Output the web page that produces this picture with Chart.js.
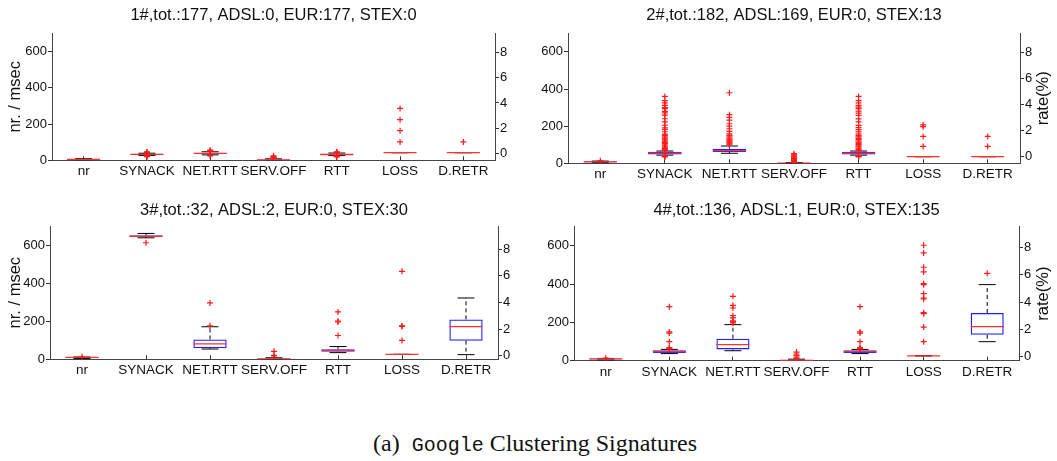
<!DOCTYPE html>
<html>
<head>
<meta charset="utf-8">
<script src="https://cdn.jsdelivr.net/npm/chart.js@4.4.1/dist/chart.umd.min.js"></script>
<style>
  body { margin: 0; width: 1057px; height: 461px; background: #fff; position: relative; overflow: hidden; }
  .panel { position: absolute; }
  .panel canvas { display: block; }
  #caption { position: absolute; left: 373px; top: 431px; font-family: "Liberation Serif", serif; font-size: 24px; line-height: 1; white-space: pre; color: #111; }
  #caption span { font-family: "Liberation Mono", monospace; font-size: 20px; }
</style>
</head>
<body>
<div class="panel" style="left:0;top:0"><canvas id="c1" width="527" height="190"></canvas></div>
<div class="panel" style="left:527px;top:0"><canvas id="c2" width="530" height="190"></canvas></div>
<div class="panel" style="left:0;top:190px"><canvas id="c3" width="527" height="190"></canvas></div>
<div class="panel" style="left:527px;top:190px"><canvas id="c4" width="530" height="190"></canvas></div>
<div id="caption">(a)  <span>Google</span> Clustering Signatures</div>
<script>
const categories = ['nr', 'SYNACK', 'NET.RTT', 'SERV.OFF', 'RTT', 'LOSS', 'D.RETR'];
// these two are rates in percent, read against the right axis
const rateCategories = ['LOSS', 'D.RETR'];
const leftTicks = [0, 200, 400, 600];
const rightTicks = [0, 2, 4, 6, 8];

const titles = [
    '1#,tot.:177, ADSL:0, EUR:177, STEX:0',
    '2#,tot.:182, ADSL:169, EUR:0, STEX:13',
    '3#,tot.:32, ADSL:2, EUR:0, STEX:30',
    '4#,tot.:136, ADSL:1, EUR:0, STEX:135'
];

// per category: [lower whisker, q1, median, q3, upper whisker]
const summary1 = [
    [1, 2, 5, 7, 9],
    [27, 30, 33, 36, 39],
    [30, 34, 38, 42, 47],
    [0, 1, 2, 4, 8],
    [26, 29, 32, 36, 40],
    [0.05, 0.05, 0.05, 0.05, 0.05],
    [0.05, 0.05, 0.05, 0.05, 0.05]
];
const outliers1 = [
    [],
    [20, 23, 25, 42, 44, 46],
    [24, 27, 50, 53, 56],
    [11, 14, 17, 21, 25],
    [19, 22, 25, 42, 45, 47],
    [0.9, 1.8, 2.67, 3.57],
    [0.9]
];

const summary2 = [
    [4, 6, 8, 11, 12],
    [44, 48, 55, 62, 66],
    [54, 61, 68, 79, 93],
    [0, 0, 1, 2, 4],
    [44, 48, 55, 62, 66],
    [0, 0, 0, 0, 0],
    [0, 0, 0, 0, 0]
];
const outliers2 = [
    [14],
    [35, 37, 40, 70, 72, 76, 80, 87, 94, 100, 107, 113, 119, 126, 134, 142, 150, 157, 170, 182, 191, 205, 223, 240, 259, 271, 280, 294, 300, 312, 325, 338, 360],
    [100, 105, 110, 115, 120, 125, 130, 135, 142, 150, 158, 172, 186, 200, 213, 232, 247, 262, 380],
    [5, 7, 10, 14, 18, 22, 26, 30, 35, 40, 45, 52],
    [35, 38, 40, 70, 73, 77, 81, 88, 94, 101, 107, 114, 120, 127, 134, 142, 149, 157, 169, 181, 192, 204, 223, 239, 258, 270, 281, 294, 302, 312, 325, 338, 360],
    [0.79, 1.56, 2.31, 2.44],
    [0.79, 1.56]
];

const summary3 = [
    [4, 6, 10, 11, 12],
    [638, 642, 645, 652, 661],
    [54, 58, 81, 104, 171],
    [0, 0, 2, 5, 8],
    [35, 40, 47, 53, 67],
    [0.1, 0.1, 0.1, 0.1, 0.1],
    [0.08, 1.13, 2.18, 2.73, 4.34]
];
const outliers3 = [
    [13],
    [612],
    [176, 296],
    [12, 21, 42],
    [125, 196, 200, 249],
    [1.15, 2.2, 2.24, 6.34],
    []
];

const summary4 = [
    [4, 6, 9, 11, 12],
    [37, 40, 47, 54, 59],
    [52, 59, 84, 115, 188],
    [0, 0, 2, 5, 8],
    [37, 40, 47, 54, 59],
    [0.07, 0.07, 0.07, 0.07, 0.07],
    [1.1, 1.61, 2.2, 3.2, 5.27]
];
const outliers4 = [
    [13],
    [62, 65, 68, 99, 144, 150, 282],
    [197, 202, 208, 223, 235, 275, 289, 336],
    [12, 19, 28, 35, 45],
    [62, 65, 68, 99, 144, 150, 282],
    [1.1, 2.17, 3.15, 3.22, 4.22, 4.29, 4.61, 5.27, 5.34, 6.2, 6.54, 7.59, 8.15],
    [6.1]
];

const FONT = '"Liberation Sans", Arial, sans-serif';
Chart.defaults.font.family = FONT;
Chart.defaults.color = '#111';

// axis sizes in px for each panel, so the four plot boxes line up
const panels = [
    { id: 'c1', summary: summary1, outliers: outliers1, left: 52, right: 32, bottom: 29.7, pad: [5.6, 7.9], rMin: -0.557, rMax: 9.54, yLabel: true, rLabel: false },
    { id: 'c2', summary: summary2, outliers: outliers2, left: 41, right: 37, bottom: 26.7, pad: [5.6, 7.9], rMin: -0.51, rMax: 9.49, yLabel: false, rLabel: true },
    { id: 'c3', summary: summary3, outliers: outliers3, left: 50, right: 29, bottom: 20.7, pad: [10.8, 5.4], rMin: -0.27, rMax: 9.75, yLabel: true, rLabel: false },
    { id: 'c4', summary: summary4, outliers: outliers4, left: 47, right: 38, bottom: 19.3, pad: [10.8, 5.9], rMin: -0.29, rMax: 9.52, yLabel: false, rLabel: true }
];

// right axis title, drawn bottom-to-top like the left one
const rightTitle = {
    id: 'rightTitle',
    afterDraw(chart, args, opts) {
        if (!opts.text) return;
        const { ctx, chartArea } = chart;
        ctx.save();
        ctx.translate(opts.x, (chartArea.top + chartArea.bottom) / 2);
        ctx.rotate(-Math.PI / 2);
        ctx.font = '16.5px ' + FONT;
        ctx.fillStyle = '#111';
        ctx.textAlign = 'center';
        ctx.textBaseline = 'middle';
        ctx.fillText(opts.text, 0, 0);
        ctx.restore();
    }
};

function boxDatasets(summary, outliers, axis) {
    const onAxis = c => rateCategories.includes(c) === (axis === 'y1');
    const boxes = [], medians = [], caps = [], whiskers = [], points = [];

    categories.forEach((c, i) => {
        if (!onAxis(c)) { boxes.push(null); return; }
        const [lo, q1, med, q3, hi] = summary[i];
        boxes.push([q1, q3]);
        medians.push({ x: c, y: med });
        caps.push({ x: c, y: lo }, { x: c, y: hi });
        whiskers.push({ x: c, y: q3 }, { x: c, y: hi }, { x: c, y: null },
                      { x: c, y: q1 }, { x: c, y: lo }, { x: c, y: null });
        outliers[i].forEach(v => points.push({ x: c, y: v }));
    });

    return [
        {
            type: 'line', data: points, yAxisID: axis, order: 1, showLine: false,
            pointStyle: 'cross', pointRadius: 3, borderColor: '#ff1a1a', pointBorderColor: '#ff1a1a', pointBorderWidth: 1.2
        },
        {
            type: 'line', data: medians, yAxisID: axis, order: 2, showLine: false,
            pointStyle: 'line', pointRadius: 16.5, borderColor: '#ff3030', pointBorderColor: '#ff3030', pointBorderWidth: 1.3
        },
        {
            type: 'bar', data: boxes, yAxisID: axis, order: 3, grouped: false,
            barPercentage: 0.52, categoryPercentage: 1, borderSkipped: false,
            backgroundColor: 'rgba(0,0,0,0)', borderColor: '#2020ff', borderWidth: 1.3
        },
        {
            type: 'line', data: caps, yAxisID: axis, order: 4, showLine: false,
            pointStyle: 'line', pointRadius: 8.5, borderColor: '#000', pointBorderColor: '#000', pointBorderWidth: 1
        },
        {
            type: 'line', data: whiskers, yAxisID: axis, order: 5, spanGaps: false,
            borderColor: '#000', borderWidth: 1, borderDash: [4, 3], pointRadius: 0
        }
    ];
}

function createChart(p, idx) {
    const tickFont = { family: FONT, size: 13 };
    const axisLine = { display: true, color: '#444', width: 1 };

    return new Chart(document.getElementById(p.id).getContext('2d'), {
        type: 'bar',
        data: {
            labels: categories,
            datasets: boxDatasets(p.summary, p.outliers, 'y').concat(boxDatasets(p.summary, p.outliers, 'y1'))
        },
        options: {
            responsive: false,
            animation: false,
            events: [],
            layout: { padding: 0 },
            plugins: {
                legend: { display: false },
                tooltip: { enabled: false },
                title: {
                    display: true, text: titles[idx], fullSize: false, color: '#111',
                    font: { family: FONT, size: 16.5, weight: 'normal', lineHeight: 1.2 },
                    padding: { top: p.pad[0], bottom: p.pad[1] }
                },
                rightTitle: { text: p.rLabel ? 'rate(%)' : '', x: 516 }
            },
            scales: {
                x: {
                    type: 'category', offset: true,
                    grid: { offset: false, drawOnChartArea: false, drawTicks: true, tickLength: -4, color: '#333' },
                    border: axisLine,
                    ticks: { font: { family: FONT, size: 13.5 }, color: '#111', padding: 7, autoSkip: false, maxRotation: 0, minRotation: 0 },
                    afterFit: s => { s.height = p.bottom; }
                },
                y: {
                    position: 'left', min: 0, max: 700,
                    afterBuildTicks: s => { s.ticks = leftTicks.map(v => ({ value: v })); },
                    grid: { drawOnChartArea: false, tickLength: 4, color: '#333' },
                    border: axisLine,
                    ticks: { font: tickFont, color: '#111', padding: 1 },
                    title: { display: p.yLabel, text: 'nr. / msec', color: '#111', font: { family: FONT, size: 16.5 }, padding: { top: 6, bottom: 0 } },
                    afterFit: s => { s.width = p.left; }
                },
                y1: {
                    position: 'right', min: p.rMin, max: p.rMax,
                    afterBuildTicks: s => { s.ticks = rightTicks.map(v => ({ value: v })); },
                    grid: { drawOnChartArea: false, tickLength: 4, color: '#333' },
                    border: axisLine,
                    ticks: { font: tickFont, color: '#111', padding: 1 },
                    afterFit: s => { s.width = p.right; }
                }
            }
        },
        plugins: [rightTitle]
    });
}

panels.forEach(createChart);
</script>
</body>
</html>
